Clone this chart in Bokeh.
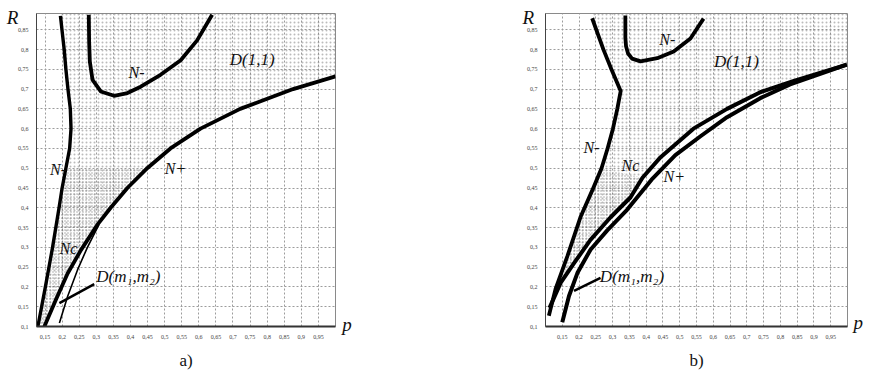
from bokeh.plotting import figure
from bokeh.layouts import row
from bokeh.models import Range1d, FixedTicker, Label
from bokeh.embed import file_html
from bokeh.resources import INLINE

# ---------------- axis ticks ----------------
X_TICKS = [0.15, 0.2, 0.25, 0.3, 0.35, 0.4, 0.45, 0.5, 0.55, 0.6, 0.65, 0.7, 0.75, 0.8, 0.85, 0.9, 0.95]
X_LABELS = ["0,15", "0,2", "0,25", "0,3", "0,35", "0,4", "0,45", "0,5", "0,55", "0,6", "0,65",
            "0,7", "0,75", "0,8", "0,85", "0,9", "0,95"]
Y_TICKS = [0.1, 0.15, 0.2, 0.25, 0.3, 0.35, 0.4, 0.45, 0.5, 0.55, 0.6, 0.65, 0.7, 0.75, 0.8, 0.85]
Y_LABELS = ["0,1", "0,15", "0,2", "0,25", "0,3", "0,35", "0,4", "0,45", "0,5", "0,55", "0,6",
            "0,65", "0,7", "0,75", "0,8", "0,85"]

# ---------------- panel a) curves (p, R) ----------------
A_NM_LEFT_P = [0.129, 0.151, 0.172, 0.191, 0.200, 0.211, 0.222, 0.226, 0.224, 0.217, 0.211, 0.206, 0.195]
A_NM_LEFT_R = [0.10, 0.20, 0.30, 0.40, 0.45, 0.50, 0.55, 0.60, 0.65, 0.70, 0.75, 0.80, 0.885]
A_NM_TOP_P = [0.278, 0.279, 0.281, 0.289, 0.313, 0.352, 0.391, 0.430, 0.488, 0.547, 0.595, 0.639]
A_NM_TOP_R = [0.888, 0.82, 0.77, 0.723, 0.694, 0.683, 0.690, 0.706, 0.736, 0.773, 0.823, 0.888]
A_NP_P = [0.148, 0.182, 0.216, 0.255, 0.304, 0.342, 0.391, 0.449, 0.517, 0.605, 0.721, 0.876, 1.0]
A_NP_R = [0.10, 0.168, 0.234, 0.293, 0.358, 0.40, 0.45, 0.50, 0.55, 0.60, 0.65, 0.70, 0.732]
A_DM_P = [0.192, 0.216, 0.245, 0.274, 0.308]
A_DM_R = [0.109, 0.176, 0.243, 0.300, 0.358]
A_LEAD_P = [0.192, 0.294]
A_LEAD_R = [0.159, 0.207]

# ---------------- panel b) curves (p, R) ----------------
B_NM_LEFT_P = [0.110, 0.130, 0.165, 0.204, 0.243, 0.267, 0.285, 0.301, 0.314, 0.324, 0.297, 0.273, 0.239]
B_NM_LEFT_R = [0.127, 0.195, 0.277, 0.376, 0.451, 0.50, 0.55, 0.60, 0.65, 0.695, 0.749, 0.799, 0.879]
B_NM_TOP_P = [0.338, 0.338, 0.340, 0.346, 0.358, 0.383, 0.433, 0.482, 0.532, 0.571]
B_NM_TOP_R = [0.886, 0.830, 0.808, 0.790, 0.777, 0.770, 0.778, 0.795, 0.828, 0.878]
B_NP_UP_P = [0.112, 0.145, 0.185, 0.234, 0.294, 0.353, 0.389, 0.443, 0.541, 0.641, 0.740, 0.838, 0.998]
B_NP_UP_R = [0.147, 0.210, 0.260, 0.319, 0.376, 0.426, 0.476, 0.528, 0.600, 0.650, 0.692, 0.720, 0.762]
B_NP_LO_P = [0.150, 0.170, 0.195, 0.234, 0.284, 0.343, 0.416, 0.487, 0.564, 0.641, 0.740, 0.829, 0.998]
B_NP_LO_R = [0.111, 0.177, 0.235, 0.294, 0.343, 0.395, 0.471, 0.533, 0.582, 0.629, 0.677, 0.712, 0.762]
B_LEAD_P = [0.185, 0.264]
B_LEAD_R = [0.190, 0.223]

Y_RANGE = (0.1, 0.891)
A_X_RANGE = (0.125, 1.0)
B_X_RANGE = (0.1, 1.0)

SERIF = "Liberation Serif"


def make_panel(xr, width, bl, br, caption):
    p = figure(width=width, height=372, x_range=Range1d(*xr), y_range=Range1d(*Y_RANGE),
               output_backend="svg", toolbar_location=None,
               min_border_left=bl, min_border_right=br, min_border_top=13, min_border_bottom=41)
    p.outline_line_color = "#8a8a8a"
    p.outline_line_width = 1
    p.xaxis.ticker = FixedTicker(ticks=X_TICKS)
    p.yaxis.ticker = FixedTicker(ticks=Y_TICKS)
    p.xaxis.major_label_overrides = dict(zip(X_TICKS, X_LABELS))
    p.yaxis.major_label_overrides = dict(zip(Y_TICKS, Y_LABELS))
    for ax in (p.xaxis, p.yaxis):
        ax.major_tick_line_color = None
        ax.minor_tick_line_color = None
        ax.major_label_text_font = "Liberation Sans Narrow"
        ax.major_label_text_font_size = "6px"
        ax.major_label_text_color = "#444444"
    p.xaxis.major_label_standoff = 2
    p.yaxis.major_label_standoff = 2
    p.xaxis.axis_line_color = "#333333"
    p.xaxis.axis_line_width = 2
    p.yaxis.axis_line_color = "#444444"
    p.yaxis.axis_line_width = 1
    p.xaxis.axis_label = caption
    p.xaxis.axis_label_text_font = SERIF
    p.xaxis.axis_label_text_font_style = "normal"
    p.xaxis.axis_label_text_font_size = "17px"
    p.xaxis.axis_label_text_color = "#111111"
    p.xaxis.axis_label_standoff = 9
    for g in (p.xgrid, p.ygrid):
        g.grid_line_color = "#9c9c9c"
        g.grid_line_dash = "2 2"
        g.grid_line_width = 1
    return p


def mk(x, y, text, size="16px", italic=True, align="center"):
    return Label(x=x, y=y, text=text, text_font=SERIF,
                 text_font_style="italic" if italic else "normal",
                 text_font_size=size, text_align=align, text_baseline="middle",
                 text_color="#111111")


def lbl(p, x, y, text, size="16px", italic=True, align="center"):
    p.add_layout(mk(x, y, text, size, italic, align))


def stipple(p, xs, ys, scale, alpha):
    p.patch(xs, ys, fill_color=None, line_color=None, hatch_pattern="dot",
            hatch_color="#555555", hatch_scale=scale, hatch_weight=1, hatch_alpha=alpha)


# ================= panel a =================
pa = make_panel(A_X_RANGE, 440, 36, 105, "a)")
xa_end, ytop = A_X_RANGE[1], Y_RANGE[1]
stipple(pa, A_NM_LEFT_P + [A_NM_LEFT_P[-1], xa_end, xa_end] + A_NP_P[::-1],
        A_NM_LEFT_R + [ytop, ytop, A_NP_R[-1]] + A_NP_R[::-1], 4, 0.4)
stipple(pa, A_NM_LEFT_P[:6] + A_NP_P[:8][::-1], A_NM_LEFT_R[:6] + A_NP_R[:8][::-1], 3, 0.55)

pa.line(A_NM_LEFT_P, A_NM_LEFT_R, line_color="black", line_width=3.4, line_join="round")
pa.line(A_NM_TOP_P, A_NM_TOP_R, line_color="black", line_width=3.8, line_join="round")
pa.line(A_NP_P, A_NP_R, line_color="black", line_width=3.8, line_join="round")
pa.line(A_DM_P, A_DM_R, line_color="black", line_width=1.6, line_join="round")
pa.line(A_LEAD_P, A_LEAD_R, line_color="black", line_width=2.5)

lbl(pa, 0.418, 0.742, "N-")
lbl(pa, 0.756, 0.775, "D(1,1)", size="17px")
lbl(pa, 0.188, 0.496, "N-")
lbl(pa, 0.532, 0.500, "N+")
lbl(pa, 0.2185, 0.298, "Nc")
lbl(pa, 0.300, 0.226, "D(m\u2081,m\u2082)", size="17px", align="left")
pa.add_layout(mk(0.055, 0.880, "R", size="19px"), "left")
pa.add_layout(mk(1.034, 0.106, "p", size="19px"), "right")

# ================= panel b =================
pb = make_panel(B_X_RANGE, 423, 105, 16, "b)")
xb_end = B_X_RANGE[1]
stipple(pb, B_NM_LEFT_P + [B_NM_LEFT_P[-1], xb_end, xb_end] + B_NP_UP_P[::-1],
        B_NM_LEFT_R + [ytop, ytop, B_NP_UP_R[-1]] + B_NP_UP_R[::-1], 4, 0.4)
stipple(pb, B_NM_LEFT_P[:6] + B_NP_UP_P[:7][::-1], B_NM_LEFT_R[:6] + B_NP_UP_R[:7][::-1], 3, 0.55)

pb.line(B_NM_LEFT_P, B_NM_LEFT_R, line_color="black", line_width=3.8, line_join="round")
pb.line(B_NM_TOP_P, B_NM_TOP_R, line_color="black", line_width=3.8, line_join="round")
pb.line(B_NP_UP_P, B_NP_UP_R, line_color="black", line_width=4, line_join="round")
pb.line(B_NP_LO_P, B_NP_LO_R, line_color="black", line_width=4, line_join="round")
pb.line(B_LEAD_P, B_LEAD_R, line_color="black", line_width=2.5)

lbl(pb, 0.463, 0.826, "N-")
lbl(pb, 0.669, 0.769, "D(1,1)", size="17px")
lbl(pb, 0.237, 0.553, "N-")
lbl(pb, 0.353, 0.506, "Nc")
lbl(pb, 0.484, 0.478, "N+")
lbl(pb, 0.262, 0.227, "D(m\u2081,m\u2082)", size="17px", align="left")
pb.add_layout(mk(0.049, 0.880, "R", size="19px"), "left")
pb.add_layout(mk(1.032, 0.110, "p", size="19px"), "right")

layout = row(pa, pb)
open("out.html", "w").write(file_html(layout, INLINE))
